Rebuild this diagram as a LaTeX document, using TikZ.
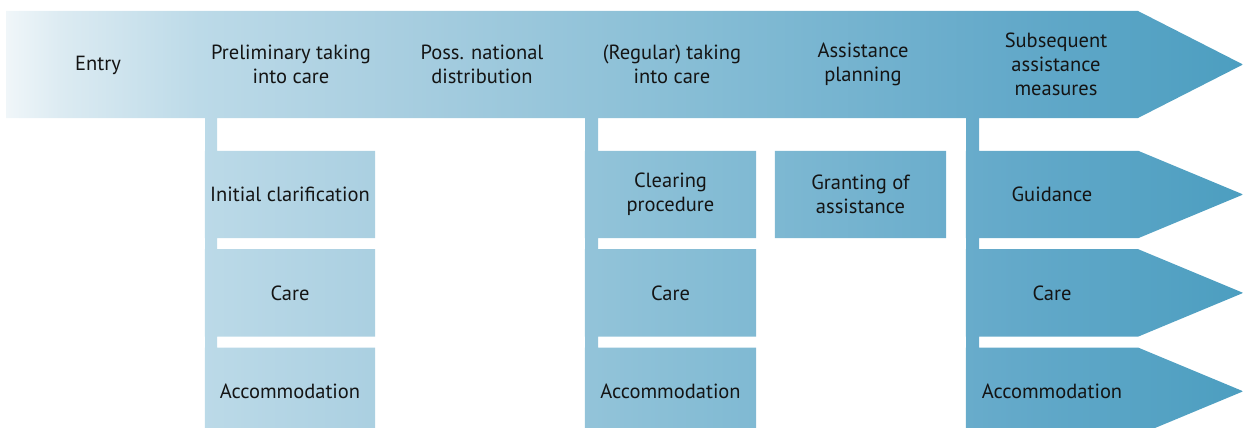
\documentclass[tikz,border=0pt]{standalone}
\usepackage{fontspec}
\setmainfont{PT Sans}
\usetikzlibrary{calc,backgrounds,positioning}
\definecolor{txt}{HTML}{141414}
\definecolor{s0}{HTML}{F0F6F9}
\definecolor{s1}{HTML}{DCEBF2}
\definecolor{s2}{HTML}{BCDAE8}
\definecolor{s3}{HTML}{A8CEE0}
\definecolor{s4}{HTML}{86BDD5}
\definecolor{s5}{HTML}{65AACA}
\definecolor{s6}{HTML}{4C9EC0}
\pgfdeclarehorizontalshading{stream}{100bp}{color(0bp)=(s0); color(25bp)=(s0); color(27.2bp)=(s1); color(32.8bp)=(s2); color(40.9bp)=(s3); color(53bp)=(s4); color(65bp)=(s5); color(75bp)=(s6); color(100bp)=(s6)}

\begin{document}
\begin{tikzpicture}[x=1pt,y=-1pt,node distance=11pt]

\tikzset{stage/.style={font=\fontsize{20.5}{24}\selectfont,align=center,text=txt},
substep/.style={stage,minimum width=170pt,minimum height=87pt,inner sep=0pt}}

\useasboundingbox (0,0) rectangle (1243,428);

% Main stream
\node[stage] (entry) at (98,65.5) {Entry};
\node[stage] (prelim) at (291,64.5) {Preliminary taking\\into care};
\node[stage] (distrib) at (482,64.5) {Poss. national\\distribution};
\node[stage] (regular) at (672,64.5) {(Regular) taking\\into care};
\node[stage] (planning) at (863,64.5) {Assistance\\planning};
\node[stage] (subseq) at (1056,64.5) {Subsequent\\assistance\\measures};

% Preliminary steps
\node[substep] (clarif) at (290,194.5) {Initial clarification};
\node[substep] (care1) [below=of clarif] {Care};
\node[substep] (accom1) [below=of care1] {Accommodation};

% Regular steps
\node[substep,minimum width=171pt] (clearing) at (670.5,194.5) {Clearing\\procedure};
\node[substep,minimum width=171pt] (care2) [below=of clearing] {Care};
\node[substep,minimum width=171pt] (accom2) [below=of care2] {Accommodation};
\node[substep,minimum width=171pt] (granting) at (860.5,194.5) {Granting of\\assistance};

% Subsequent measures
\node[substep,minimum width=172pt] (guidance) at (1052,194.5) {Guidance};
\node[substep,minimum width=172pt] (care3) [below=of guidance] {Care};
\node[substep,minimum width=172pt] (accom3) [below=of care3] {Accommodation};

% Shapes, all filled with one shading
\begin{scope}[on background layer]
\clip (6,11) -- (6,118) -- (1138,118) -- (1243,64.5) -- (1138,11) -- cycle
  (205,118) rectangle (217,428) (585,118) rectangle (598,428) (966,118) rectangle (979,428)
  \foreach \n in {clarif,care1,accom1,clearing,care2,accom2,granting,guidance,care3,accom3} {(\n.north west) rectangle (\n.south east)}
  \foreach \n in {guidance,care3,accom3} {(\n.north east) -- (\n.south east) -- ($(\n.east)+(105,0)$) -- cycle};
\shade[shading=stream] (6,0) rectangle (1243,428);
\end{scope}

\end{tikzpicture}
\end{document}
